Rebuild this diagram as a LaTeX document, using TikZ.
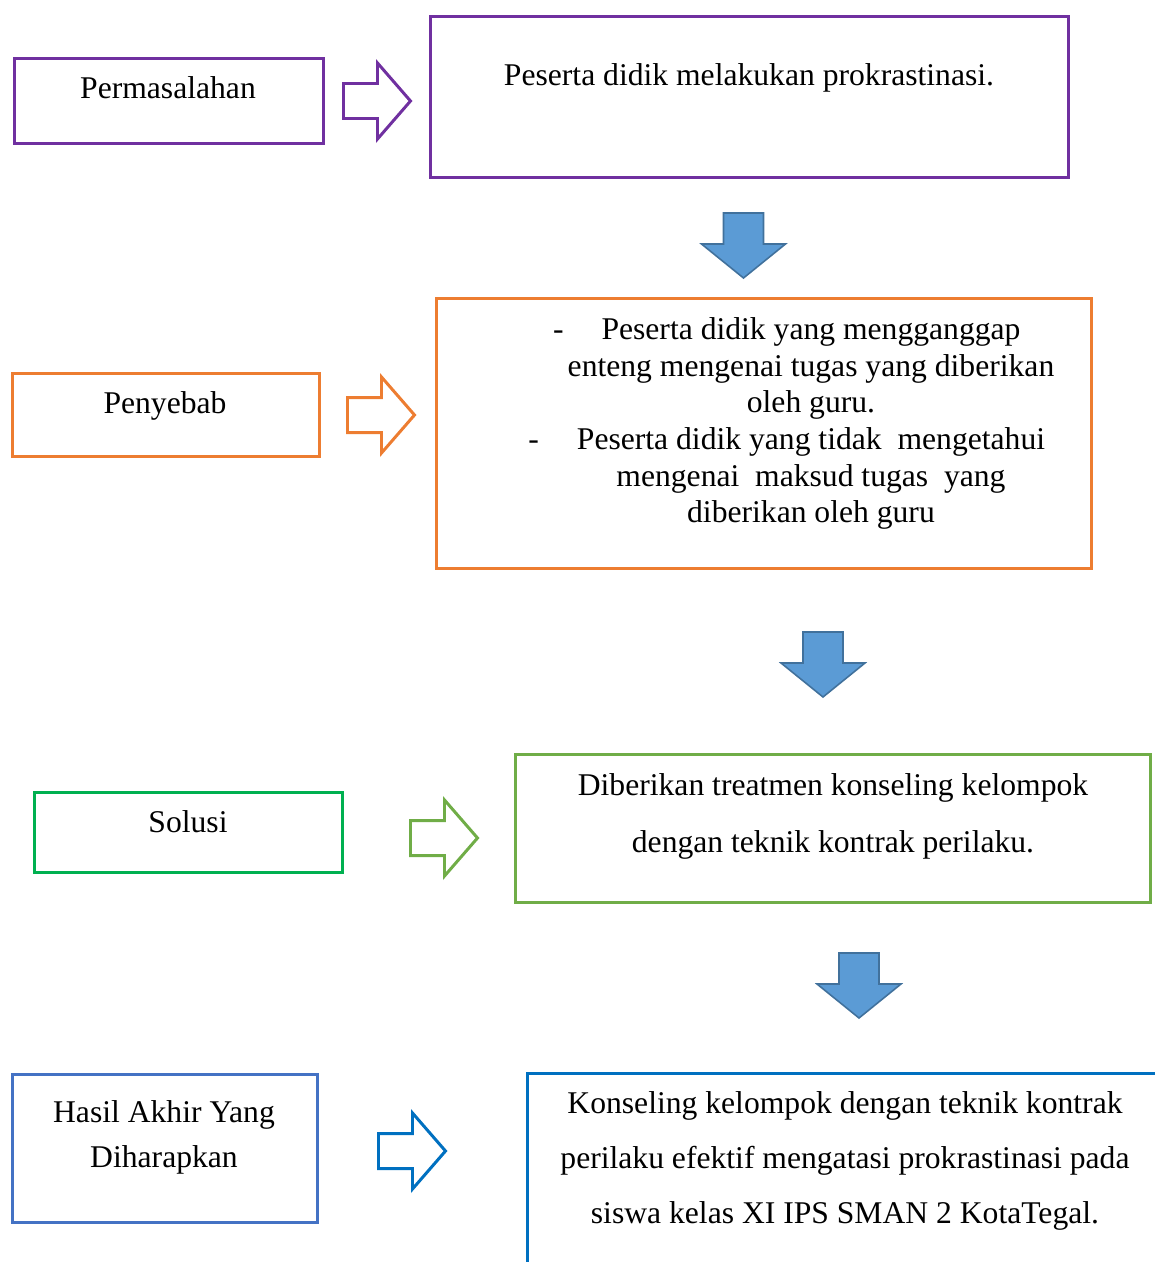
\documentclass[tikz,border=0pt]{standalone}
\usepackage{fontspec}
\setmainfont{Liberation Serif}

\definecolor{ungu}{HTML}{7030A0}
\definecolor{oranye}{HTML}{ED7D31}
\definecolor{hijau}{HTML}{00B050}
\definecolor{hijaumuda}{HTML}{70AD47}
\definecolor{biru}{HTML}{4472C4}
\definecolor{birutua}{HTML}{0070C0}
\definecolor{panahisi}{HTML}{5B9BD5}
\definecolor{panahgaris}{HTML}{41719C}

\begin{document}
\begin{tikzpicture}[x=0.02cm,y=-0.02cm,
	kotak/.style={draw,line width=1.7pt,anchor=north west,inner sep=0pt},
	teks/.style={inner sep=0pt,align=center,font=\fontsize{18}{20.9}\selectfont},
	panahkanan/.pic={\draw[pic actions] (0,-17.5)--(34,-17.5)--(34,-38)--(67,0)--(34,38)--(34,17.5)--(0,17.5)--cycle;},
	panahbawah/.pic={\draw[pic actions] (-20,0)--(20,0)--(20,31)--(42,31)--(0,65)--(-42,31)--(-20,31)--cycle;}]
	\useasboundingbox (0,0) rectangle (1155,1262);
	\clip (0,0) rectangle (1155,1262);
	
	%BOXES
	\node[kotak,draw=ungu,minimum width=6.18cm,minimum height=1.70cm] (perm) at (13,57) {};
	\node[kotak,draw=ungu,minimum width=12.76cm,minimum height=3.22cm] (masalah) at (429,15) {};
	\node[kotak,draw=oranye,minimum width=6.14cm,minimum height=1.66cm] (sebab) at (11,372) {};
	\node[kotak,draw=oranye,minimum width=13.10cm,minimum height=5.40cm] (sebabisi) at (435,297) {};
	\node[kotak,draw=hijau,minimum width=6.16cm,minimum height=1.60cm] (solusi) at (33,791) {};
	\node[kotak,draw=hijaumuda,minimum width=12.70cm,minimum height=2.96cm] (solusiisi) at (514,753) {};
	\node[kotak,draw=biru,minimum width=6.10cm,minimum height=2.96cm] (hasil) at (11,1073) {};
	\node[kotak,draw=birutua,minimum width=14cm,minimum height=4.8cm] (hasilisi) at (526,1072) {};
	
	%LABELS
	\node[teks,anchor=base] (permteks) at (168,98) {Permasalahan};
	\node[teks,anchor=base] (masalahteks) at (749,85) {Peserta didik melakukan prokrastinasi.};
	\node[teks,anchor=base] (sebabteks) at (165,413) {Penyebab};
	\node[teks,anchor=north] (sebabisiteks) at (811,317) {\llap{-\hspace{0.76cm}}Peserta didik yang mengganggap\\
		enteng mengenai tugas yang diberikan\\ oleh guru.\\
		\llap{-\hspace{0.76cm}}Peserta didik yang tidak\ \ mengetahui\\
		mengenai\ \ maksud tugas\ \ yang\\ diberikan oleh guru};
	\node[teks,anchor=base] (solusiteks) at (188,832) {Solusi};
	\node[teks,anchor=north,font=\fontsize{18}{32.4}\selectfont] (solusiisiteks) at (833,773)
		{Diberikan treatmen konseling kelompok\\ dengan teknik kontrak perilaku.};
	\node[teks,anchor=north,font=\fontsize{18}{25.6}\selectfont] (hasilteks) at (164,1100)
		{Hasil Akhir Yang\\ Diharapkan};
	\node[teks,anchor=north,font=\fontsize{18}{31.3}\selectfont] (hasilisiteks) at (845,1091)
		{Konseling kelompok dengan teknik kontrak\\ perilaku efektif mengatasi prokrastinasi pada\\ siswa kelas XI IPS SMAN 2 KotaTegal.};
	
	%RIGHT ARROWS
	\pic[draw=ungu,line width=1.7pt] at (343.5,101) {panahkanan};
	\pic[draw=oranye,line width=1.7pt] at (347.5,415) {panahkanan};
	\pic[draw=hijaumuda,line width=1.7pt] at (410.5,838) {panahkanan};
	\pic[draw=birutua,line width=1.7pt] at (378.5,1151) {panahkanan};
	
	%DOWN ARROWS
	\pic[draw=panahgaris,fill=panahisi,line width=0.9pt] at (743.5,213) {panahbawah};
	\pic[draw=panahgaris,fill=panahisi,line width=0.9pt] at (823,632) {panahbawah};
	\pic[draw=panahgaris,fill=panahisi,line width=0.9pt] at (859,953) {panahbawah};
\end{tikzpicture}
\end{document}
